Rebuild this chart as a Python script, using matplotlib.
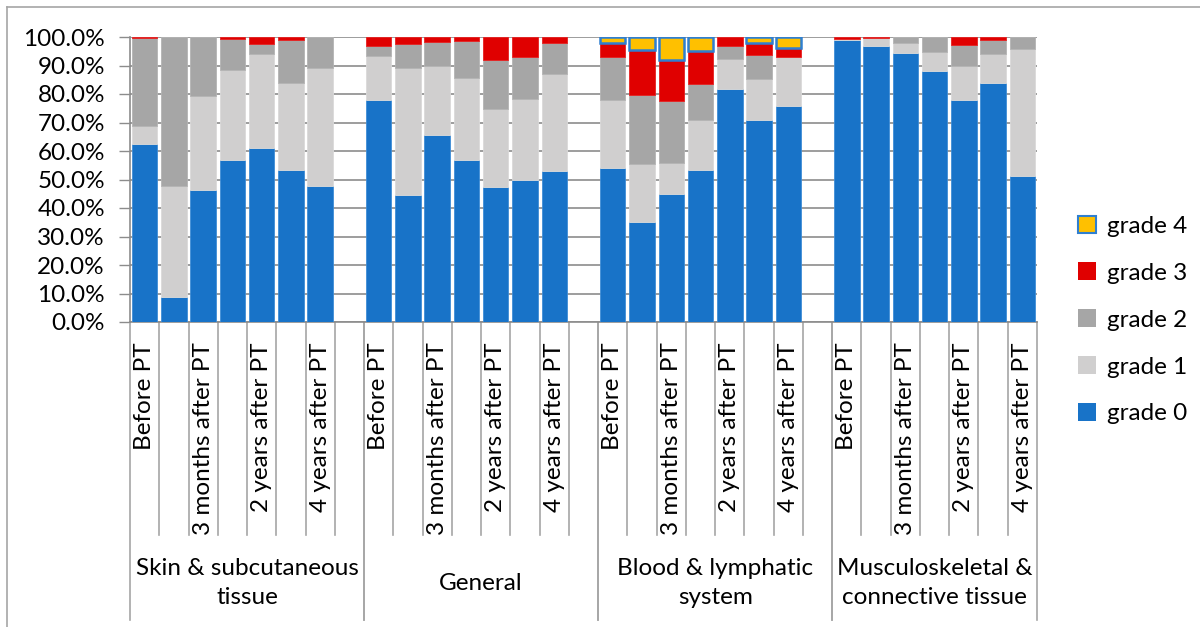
import matplotlib.pyplot as plt
from matplotlib.patches import Patch
from matplotlib.lines import Line2D
from matplotlib.ticker import PercentFormatter
import matplotlib.transforms as mtransforms

plt.rcParams['font.family'] = ['Lato', 'DejaVu Sans']

groups = ['Skin & subcutaneous\ntissue', 'General', 'Blood & lymphatic\nsystem',
          'Musculoskeletal &\nconnective tissue']
timepoints = ['Before PT', '', '3 months after PT', '', '2 years after PT', '', '4 years after PT']

# percentages per grade, 7 time points per group (skin, general, blood, musculoskeletal)
grade0 = [62.5, 8.8, 46.3, 56.8, 61.2, 53.2, 47.7,
          78.0, 44.4, 65.6, 56.7, 47.5, 49.8, 53.1,
          54.0, 35.2, 45.0, 53.3, 81.6, 70.8, 75.7,
          98.8, 96.7, 94.5, 88.2, 78.0, 84.0, 51.1]
grade1 = [6.4, 39.0, 33.0, 31.6, 32.8, 30.8, 41.3,
          15.5, 44.6, 24.2, 28.8, 27.4, 28.4, 34.0,
          23.9, 20.4, 10.8, 17.6, 10.8, 14.5, 17.2,
          0.6, 2.9, 3.5, 6.5, 11.7, 10.2, 44.8]
grade2 = [30.7, 52.2, 20.7, 10.8, 3.4, 14.8, 11.0,
          3.3, 8.4, 8.6, 13.2, 16.9, 14.9, 10.7,
          15.2, 23.9, 21.6, 12.7, 4.6, 8.5, 0.0,
          0.0, 0.0, 2.0, 5.3, 7.6, 4.6, 4.1]
grade3 = [0.4, 0.0, 0.0, 0.8, 2.6, 1.2, 0.0,
          3.2, 2.6, 1.6, 1.3, 8.2, 6.9, 2.2,
          4.8, 16.1, 14.6, 11.6, 3.0, 4.1, 3.4,
          0.6, 0.4, 0.0, 0.0, 2.7, 1.2, 0.0]
grade4 = [0.0, 0.0, 0.0, 0.0, 0.0, 0.0, 0.0,
          0.0, 0.0, 0.0, 0.0, 0.0, 0.0, 0.0,
          2.1, 4.4, 8.0, 4.8, 0.0, 2.1, 3.7,
          0.0, 0.0, 0.0, 0.0, 0.0, 0.0, 0.0]

series = [('grade 0', grade0, '#1873C8', '#3F8DD6', 0.6),
          ('grade 1', grade1, '#D0CFCF', '#DADADA', 0.6),
          ('grade 2', grade2, '#A6A6A6', '#B4B4B4', 0.6),
          ('grade 3', grade3, '#E00000', '#E62020', 0.6),
          ('grade 4', grade4, '#FFC000', '#2F7FD0', 1.8)]

n_t = len(timepoints)
slot = n_t + 1  # one empty slot between groups
xpos = [g * slot + i for g in range(len(groups)) for i in range(n_t)]

W, H = 1200, 627
fig = plt.figure(figsize=(W / 100, H / 100), dpi=100)
ax = fig.add_axes([130 / W, (H - 322) / H, (1037 - 130) / W, 285 / H])

bottom = [0.0] * len(xpos)
handles = []
for name, vals, fc, ec, lw in series:
    keep = [k for k, v in enumerate(vals) if v > 0]
    ax.bar([xpos[k] for k in keep], [vals[k] for k in keep], width=0.87,
           bottom=[bottom[k] for k in keep], color=fc, edgecolor=ec,
           linewidth=lw, zorder=3)
    bottom = [b + v for b, v in zip(bottom, vals)]
    handles.append(Patch(facecolor=fc, edgecolor=ec if name == 'grade 4' else fc,
                         linewidth=1.5 if name == 'grade 4' else 0, label=name))

n_slots = len(groups) * slot - 1
ax.set_xlim(-0.5, n_slots - 0.5)
ax.set_ylim(0, 100)
ax.set_yticks(range(0, 101, 10))
ax.yaxis.set_major_formatter(PercentFormatter(decimals=1))
ax.tick_params(axis='y', labelsize=17.5, length=8, width=1, color='#8C8C8C', pad=10)
ax.set_xticks([])
ax.grid(axis='y', color='#8C8C8C', linewidth=1.2, zorder=0)
for s in ['top', 'right']:
    ax.spines[s].set_visible(False)
for s in ['left', 'bottom']:
    ax.spines[s].set_color('#8C8C8C')
    ax.spines[s].set_linewidth(1.2)

# multi-level category axis
trans = mtransforms.blended_transform_factory(ax.transData, ax.transAxes)
px = 1 / 285
for g, gname in enumerate(groups):
    start = g * slot
    last = g == len(groups) - 1
    for i, lab in enumerate(timepoints):
        x = start + i
        if lab:
            ax.text(x, -20 * px, lab, rotation=90, ha='center', va='top',
                    fontsize=17.5, transform=trans, clip_on=False)
        if i > 0:
            ax.add_line(Line2D([x - 0.5, x - 0.5], [0, -213 * px], transform=trans,
                               color='#A6A6A6', linewidth=1.2, clip_on=False))
    if not last:
        ax.add_line(Line2D([start + n_t - 0.5] * 2, [0, -213 * px], transform=trans,
                           color='#A6A6A6', linewidth=1.2, clip_on=False))
    for xe in (start - 0.5, start + (n_t if last else slot) - 0.5):
        ax.add_line(Line2D([xe, xe], [0, -298 * px], transform=trans,
                           color='#A6A6A6', linewidth=1.2, clip_on=False))
    center = start + (n_t - 1) / 2 + (0 if last else 0.5)
    ax.text(center, -261 * px, gname, ha='center', va='center', fontsize=17.5,
            linespacing=1.45, transform=trans, clip_on=False)

fig.legend(handles=handles[::-1], loc='center left',
           bbox_to_anchor=(1078 / W, (H - 320) / H), frameon=False, fontsize=17.5,
           borderpad=0, borderaxespad=0,
           handlelength=0.75, handleheight=0.75, handletextpad=0.45, labelspacing=1.05)

# chart frame (top and left edges)
fig.add_artist(Line2D([7 / W, 1], [1 - 7 / H, 1 - 7 / H], transform=fig.transFigure,
                      color='#A6A6A6', linewidth=1.2))
fig.add_artist(Line2D([7 / W, 7 / W], [0, 1 - 7 / H], transform=fig.transFigure,
                      color='#A6A6A6', linewidth=1.2))

fig.savefig('out.png', dpi=100)
